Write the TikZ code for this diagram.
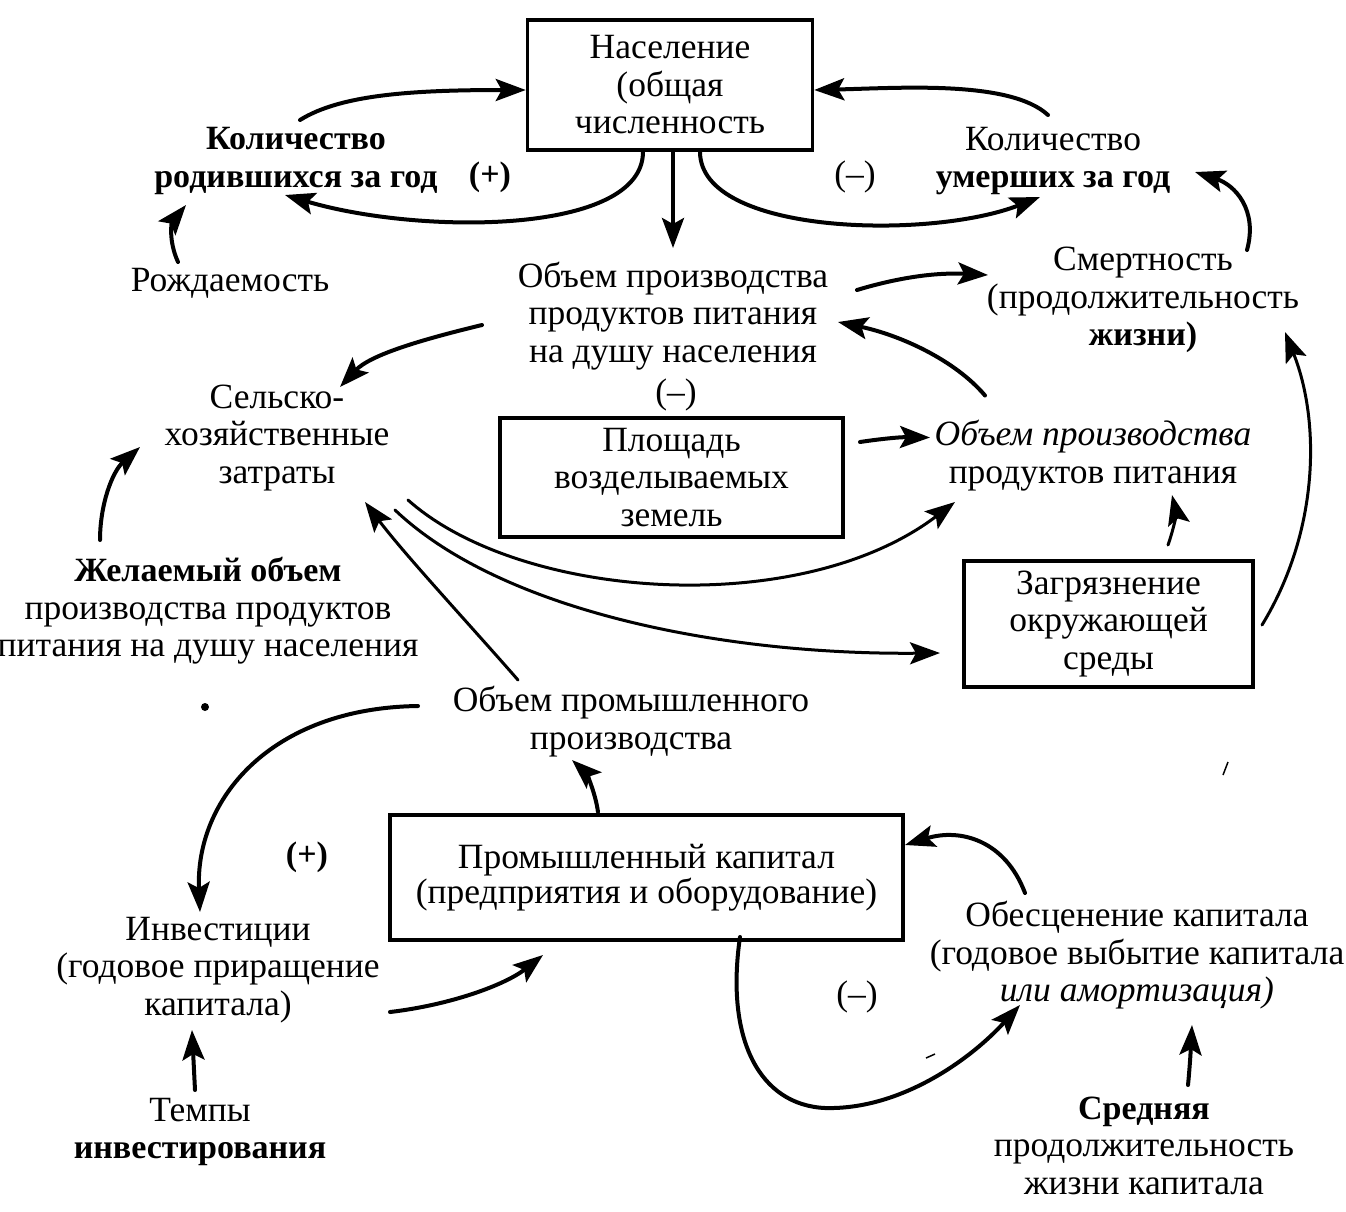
\documentclass[tikz,border=0pt]{standalone}
\usepackage{fontspec}
\setmainfont{Liberation Serif}
\usetikzlibrary{arrows.meta}
\newcommand\mybold{\fontsize{34}{37.5}\selectfont\bfseries}
\begin{document}
\begin{tikzpicture}[x=1pt,y=-1pt,
  txt/.style={align=center,inner sep=0pt,font=\fontsize{35.5}{37.5}\selectfont},
  boxnode/.style={txt,draw,line width=3.5pt},
  conn/.style={line width=4pt,line cap=round,-{Stealth[length=30pt,width=22pt,inset=6pt]}},
  thinconn/.style={conn,line width=3pt}]
\useasboundingbox (0,0) rectangle (1346,1211);
\fill[white] (0,0) rectangle (1346,1211);

% ---- nodes ----
\node[boxnode,minimum width=285pt,minimum height=130pt] (pop) at (670,85) {Население\\(общая\\численность};
\node[txt] (births) at (296,161) {\mybold Количество\\\mybold родившихся за год};
\node[txt,font=\mybold] (plusA) at (490,177) {(+)};
\node[txt] (minusA) at (855,177) {(–)};
\node[txt] (deaths) at (1053,161) {Количество\\\mybold умерших за год};
\node[txt] (birthrate) at (230,283) {Рождаемость};
\node[txt] (percap) at (673,316) {Объем производства\\продуктов питания\\на душу населения};
\node[txt] (minusB) at (676,395) {(–)};
\node[txt] (mort) at (1143,300) {Смертность\\(продолжительность\\\mybold жизни)};
\node[txt] (agri) at (277,438) {Сельско-\\хозяйственные\\затраты};
\node[boxnode,minimum width=343pt,minimum height=119pt] (land) at (671.5,477.5) {Площадь\\возделываемых\\земель};
\node[txt] (food) at (1093,455.5) {\itshape Объем производства\\продуктов питания};
\node[boxnode,minimum width=289pt,minimum height=126pt] (poll) at (1108.5,624) {Загрязнение\\окружающей\\среды};
\node[txt] (desired) at (208,611) {\mybold Желаемый объем\\производства продуктов\\питания на душу населения};
\node[txt] (indout) at (631,721.5) {Объем промышленного\\производства};
\node[boxnode,minimum width=513pt,minimum height=125pt,font=\fontsize{35.5}{35}\selectfont] (cap) at (646.5,877.5) {Промышленный капитал\\(предприятия и оборудование)};
\node[txt,font=\mybold] (plusB) at (307,857) {(+)};
\node[txt] (invest) at (218,970) {Инвестиции\\(годовое приращение\\капитала)};
\node[txt] (temps) at (200,1132) {Темпы\\\mybold инвестирования};
\node[txt] (minusC) at (857,997) {(–)};
\node[txt] (deprec) at (1137,955.5) {Обесценение капитала\\(годовое выбытие капитала\\\itshape или амортизация)};
\node[txt] (avglife) at (1144,1145.5) {\mybold Средняя\\продолжительность\\жизни капитала};

% stray marks of the print
\fill (205,707) circle (4);
\draw[line width=1.5pt] (1223,775) -- (1228,762);
\draw[line width=1.5pt] (926,1058) -- (935,1054);

% ---- connectors ----
% births -> population
\draw[conn] ([shift={(4,-41)}]births.center) .. controls (340,95) and (410,90) .. ([shift={(0,5)}]pop.west);
% population -> births
\draw[conn] ([shift={(-27,0)}]pop.south) .. controls (643,235) and (420,235) .. ([shift={(-11,34)}]births.center);
% population -> food per capita
\draw[conn] ([shift={(3,0)}]pop.south) -- ([shift={(0,-68)}]percap.center);
% population -> deaths
\draw[conn] ([shift={(30,0)}]pop.south) .. controls (700,235) and (930,240) .. ([shift={(-13,36)}]deaths.center);
% deaths -> population
\draw[conn] ([shift={(-5,-46)}]deaths.center) .. controls (1010,80) and (900,88) .. ([shift={(0,5)}]pop.east);
% mortality -> deaths
\draw[conn] ([shift={(104,-50)}]mort.center) .. controls (1258,210) and (1235,185) .. ([shift={(142,11)}]deaths.center);
% birth rate -> births
\draw[conn] ([shift={(-52,-21)}]birthrate.center) .. controls (168,240) and (172,222) .. ([shift={(-110,44)}]births.center);
% food per capita -> mortality
\draw[conn] ([shift={(184,-26)}]percap.center) .. controls (890,280) and (930,272) .. ([shift={(-155,-25)}]mort.center);
% food per capita -> agricultural inputs
\draw[conn] ([shift={(-191,9)}]percap.center) .. controls (420,340) and (370,355) .. ([shift={(63,-51)}]agri.center);
% desired food per capita -> agricultural inputs
\draw[conn] ([shift={(-108,-71)}]desired.center) .. controls (100,505) and (112,472) .. ([shift={(-137,9)}]agri.center);
% food -> food per capita
\draw[conn] ([shift={(-108,-60)}]food.center) .. controls (955,360) and (900,335) .. ([shift={(165,6)}]percap.center);
% land -> food
\draw[conn] ([shift={(188.5,-35.5)}]land.center) .. controls (880,439) and (900,437) .. ([shift={(-163,-18)}]food.center);
% agricultural inputs -> food
\draw[thinconn] ([shift={(131,62)}]agri.center) .. controls (520,600) and (800,620) .. ([shift={(-138,46.5)}]food.center);
% agricultural inputs -> pollution
\draw[thinconn] ([shift={(118,72)}]agri.center) .. controls (500,610) and (720,655) .. ([shift={(-168.5,29)}]poll.center);
% pollution -> food
\draw[thinconn] ([shift={(59.5,-79)}]poll.center) .. controls (1175,525) and (1176,512) .. ([shift={(79,39.5)}]food.center);
% pollution -> mortality
\draw[thinconn] ([shift={(153.5,1)}]poll.center) .. controls (1320,530) and (1320,420) .. ([shift={(142,32)}]mort.center);
% industrial output -> agricultural inputs
\draw[thinconn] ([shift={(-113,-41.5)}]indout.center) .. controls (470,625) and (405,555) .. ([shift={(88,64)}]agri.center);
% industrial output -> investment
\draw[conn] ([shift={(-213,-15.5)}]indout.center) .. controls (270,708) and (195,800) .. ([shift={(-18,-58)}]invest.center);
% capital -> industrial output
\draw[conn] ([shift={(-48.5,-65.5)}]cap.center) .. controls (595,790) and (585,772) .. ([shift={(-59,38.5)}]indout.center);
% investment -> capital
\draw[conn] ([shift={(172,42)}]invest.center) .. controls (450,1005) and (505,985) .. ([shift={(-103.5,77.5)}]cap.center);
% investment rate -> investment
\draw[conn] ([shift={(-5,-42)}]temps.center) .. controls (194,1070) and (193,1050) .. ([shift={(-26,60)}]invest.center);
% depreciation -> capital
\draw[conn] ([shift={(-112,-62.5)}]deprec.center) .. controls (1005,840) and (960,828) .. ([shift={(258.5,-32.5)}]cap.center);
% capital -> depreciation
\draw[conn] ([shift={(93.5,59.5)}]cap.center) .. controls (725,1040) and (760,1105) .. (825,1108) .. controls (900,1110) and (970,1060) .. ([shift={(-117,49.5)}]deprec.center);
% average lifetime -> depreciation
\draw[conn] ([shift={(44,-60.5)}]avglife.center) .. controls (1190,1065) and (1191,1045) .. ([shift={(55,69.5)}]deprec.center);
\end{tikzpicture}
\end{document}
